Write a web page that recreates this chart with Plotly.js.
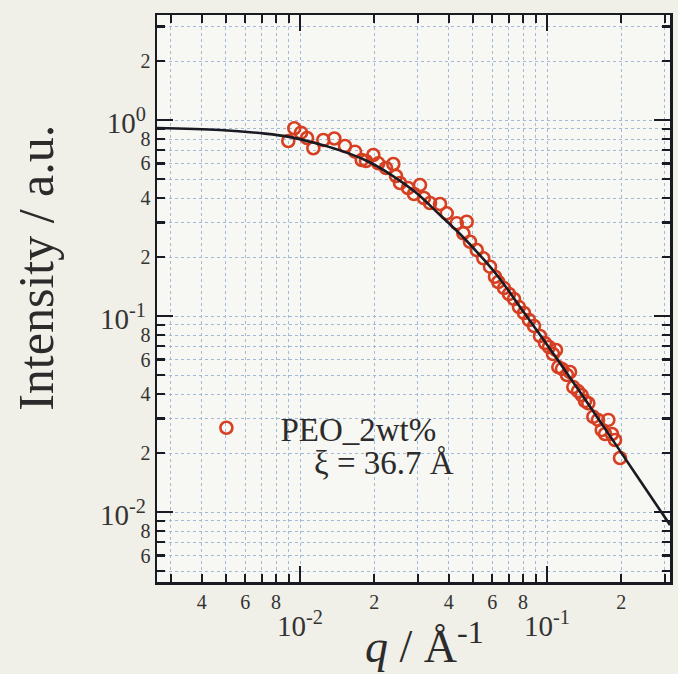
<!DOCTYPE html>
<html>
<head>
<meta charset="utf-8">
<script src="https://cdn.plot.ly/plotly-3.0.1.min.js"></script>
<style>
html,body{margin:0;padding:0;background:#f0efe8;}
#chart{width:678px;height:674px;}
</style>
</head>
<body>
<div id="chart"></div>
<script>
// Measured scattering data (q in 1/Å, intensity a.u.)
const qData = [0.008966, 0.009483, 0.010094, 0.010675, 0.011321, 0.012428, 0.013769, 0.015208, 0.016699, 0.017775,
  0.018504, 0.01981, 0.020749, 0.022295, 0.023868, 0.024475, 0.025403, 0.027362, 0.028936, 0.030601,
  0.03177, 0.033599, 0.036883, 0.039261, 0.043101, 0.045832, 0.047309, 0.048788, 0.051929, 0.055221,
  0.05878, 0.061585, 0.06351, 0.066973, 0.07017, 0.073517, 0.077024, 0.080699, 0.084548, 0.088581,
  0.093685, 0.098153, 0.101883, 0.10575, 0.10875, 0.1111, 0.115, 0.12048, 0.1239, 0.12778,
  0.1335, 0.1382, 0.1425, 0.147, 0.154, 0.1609, 0.1666, 0.1718, 0.1771, 0.1833, 0.1885, 0.1975];
const intensityData = [0.7814, 0.9072, 0.8615, 0.8093, 0.7173, 0.7905, 0.8047, 0.7369, 0.6892, 0.625,
  0.6176, 0.663, 0.6013, 0.5689, 0.5964, 0.5179, 0.4771, 0.4498, 0.4193, 0.466,
  0.4, 0.3772, 0.3727, 0.3342, 0.2972, 0.2642, 0.3028, 0.2393, 0.2171, 0.197,
  0.1785, 0.1586, 0.1491, 0.1389, 0.1295, 0.1221, 0.1111, 0.1036, 0.0954, 0.0889,
  0.0791, 0.0728, 0.0695, 0.0640, 0.0671, 0.0549, 0.0537, 0.05, 0.0518, 0.0434,
  0.0414, 0.0395, 0.0368, 0.0359, 0.0306, 0.0295, 0.0262, 0.025, 0.0295, 0.025, 0.0233, 0.01886];

// Fit curve
const qFit = [0.002636, 0.004745, 0.00722, 0.00911, 0.0115, 0.01452, 0.01833, 0.02314, 0.02921, 0.03688,
  0.04445, 0.05507, 0.06452, 0.07991, 0.09633, 0.12744, 0.15355, 0.23136, 0.3148];
const intensityFit = [0.910, 0.889, 0.852, 0.818, 0.7631, 0.700, 0.625, 0.530, 0.430, 0.3276,
  0.262, 0.196, 0.1545, 0.1060, 0.0763, 0.0461, 0.0328, 0.01527, 0.00859];

const seriesName = 'PEO_2wt%';
const annotationText = 'ξ = 36.7 Å';

// Ticks
const xTickVals = [0.003,0.004,0.005,0.006,0.007,0.008,0.009,0.01,0.02,0.03,0.04,0.05,0.06,0.07,0.08,0.09,0.1,0.2,0.3];
const xTickText = ['','4','','6','','8','','','2','','4','','6','','8','','','2',''];
const xDecadeVals = [0.01, 0.1];
const xDecadeText = ['10<sup>-2</sup>', '10<sup>-1</sup>'];
const yTickVals = [0.005,0.006,0.007,0.008,0.009,0.01,0.02,0.03,0.04,0.05,0.06,0.07,0.08,0.09,0.1,0.2,0.3,0.4,0.5,0.6,0.7,0.8,0.9,1,2,3];
const yTickText = ['','6','','8','','','2','','4','','6','','8','','','2','','4','','6','','8','','','2',''];
const yDecadeVals = [0.01, 0.1, 1];
const yDecadeText = ['10<sup>-2</sup>', '10<sup>-1</sup>', '10<sup>0</sup>'];

const xRange = [-2.579, -0.502];
const yRange = [-2.357, 0.5357];

const FONT = 'Liberation Serif, Times New Roman, serif';
const INK = '#1a1a22';
const GRID = '#a3b9d6';

const traces = [
  {
    x: qData, y: intensityData, type: 'scatter', mode: 'markers', name: seriesName,
    xaxis: 'x', yaxis: 'y',
    marker: {symbol: 'circle-open', size: 12, color: '#d63f22', line: {width: 2.6, color: '#d63f22'}},
    showlegend: true
  },
  {
    x: qFit, y: intensityFit, type: 'scatter', mode: 'lines', name: 'fit',
    xaxis: 'x2', yaxis: 'y2',
    line: {color: INK, width: 2.6, shape: 'spline', smoothing: 1},
    showlegend: false
  }
];

const baseAxis = {
  type: 'log', tickmode: 'array', ticks: 'inside', tickwidth: 2.2, tickcolor: INK,
  zeroline: false, fixedrange: true
};

const layout = {
  width: 678, height: 674,
  margin: {l: 157, r: 8, t: 15, b: 92},
  paper_bgcolor: '#f0efe8',
  plot_bgcolor: '#f7f7f3',
  font: {family: FONT, color: '#2b2b2b'},
  xaxis: Object.assign({}, baseAxis, {
    range: xRange, tickvals: xTickVals, ticktext: xTickText, ticklen: 8,
    showline: true, linewidth: 2.5, linecolor: INK, mirror: 'ticks',
    showgrid: true, gridcolor: GRID, gridwidth: 1, griddash: 'dot',
    tickfont: {family: FONT, size: 20, color: '#333'}
  }),
  xaxis2: Object.assign({}, baseAxis, {
    range: xRange, overlaying: 'x', side: 'bottom', anchor: 'y2',
    tickvals: xDecadeVals, ticktext: xDecadeText, ticklen: 16,
    showline: false, mirror: 'ticks', showgrid: false,
    ticklabelstandoff: 24,
    tickfont: {family: FONT, size: 29, color: '#333'}
  }),
  yaxis: Object.assign({}, baseAxis, {
    range: yRange, tickvals: yTickVals, ticktext: yTickText, ticklen: 8,
    showline: true, linewidth: 2.5, linecolor: INK, mirror: 'ticks',
    showgrid: true, gridcolor: GRID, gridwidth: 1, griddash: 'dot',
    tickfont: {family: FONT, size: 20, color: '#333'}
  }),
  yaxis2: Object.assign({}, baseAxis, {
    range: yRange, overlaying: 'y', side: 'left', anchor: 'x2',
    tickvals: yDecadeVals, ticktext: yDecadeText, ticklen: 16,
    showline: false, mirror: 'ticks', showgrid: false,
    ticklabelstandoff: 10, ticklabelshift: 3,
    tickfont: {family: FONT, size: 29, color: '#333'}
  }),
  showlegend: true,
  legend: {
    x: 0.03, y: 0.272, xanchor: 'left', yanchor: 'middle',
    bgcolor: 'rgba(0,0,0,0)', borderwidth: 0, itemwidth: 98,
    font: {family: FONT, size: 33, color: '#2b2b2b'}
  },
  annotations: [
    {text: annotationText, xref: 'paper', yref: 'paper', x: 0.4425, y: 0.21,
     xanchor: 'center', yanchor: 'middle', showarrow: false,
     font: {family: FONT, size: 33, color: '#2b2b2b'}},
    {text: 'Intensity / a.u.', xref: 'paper', yref: 'paper', x: -0.236, y: 0.554,
     xanchor: 'center', yanchor: 'middle', showarrow: false, textangle: -90,
     font: {family: FONT, size: 50, color: '#2b2b2b'}},
    {text: '<i>q</i> / Å<sup>-1</sup>', xref: 'paper', yref: 'paper', x: 0.522, y: -0.108,
     xanchor: 'center', yanchor: 'middle', showarrow: false,
     font: {family: FONT, size: 46, color: '#2b2b2b'}}
  ]
};

Plotly.newPlot('chart', traces, layout, {displayModeBar: false, staticPlot: true});
</script>
</body>
</html>
